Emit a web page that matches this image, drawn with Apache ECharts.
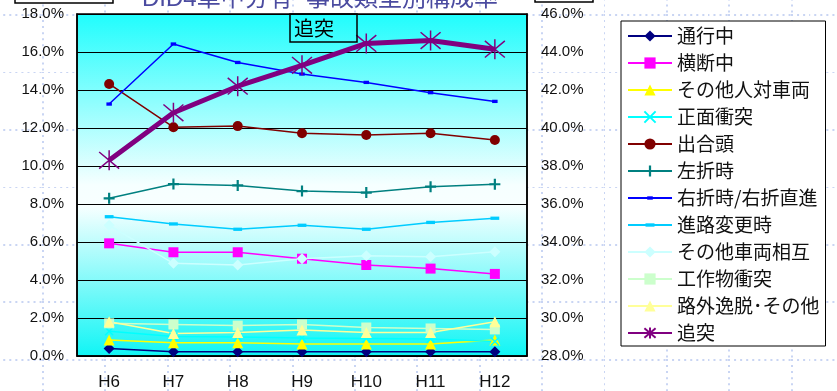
<!DOCTYPE html>
<html>
<head>
<meta charset="utf-8">
<script src="https://cdn.jsdelivr.net/npm/echarts@6/dist/echarts.min.js"></script>
<style>
  html, body { margin: 0; padding: 0; }
  body {
    width: 837px; height: 391px; overflow: hidden;
    background-color: #fff;
    background-image: url("data:image/svg+xml,%3Csvg xmlns='http://www.w3.org/2000/svg' width='62.4' height='57.5'%3E%3Cpath d='M1 0V57.5M0 1H62.4' stroke='%23c9d5f3' stroke-width='2' stroke-dasharray='2 4' fill='none'/%3E%3C/svg%3E");
    background-size: 62.4px 57.5px;
    background-position: 42px 14px;
  }
  #chart { width: 837px; height: 391px; }
</style>
</head>
<body>
<div id="chart"></div>
<script>
// 年次
const years = ["H6", "H7", "H8", "H9", "H10", "H11", "H12"];

// 左軸 (%)
const tsukouchu = [0.40, 0.22, 0.22, 0.22, 0.22, 0.22, 0.22];
const oudanchu = [5.93, 5.46, 5.46, 5.12, 4.79, 4.60, 4.32];
const sonotaJinTaiSharyo = [0.84, 0.70, 0.70, 0.63, 0.63, 0.63, 0.84];
const shomenShototsu = [1.30, 1.02, 1.00, 0.95, 0.92, 0.90, 0.76];
const deaigashira = [14.32, 12.04, 12.10, 11.72, 11.63, 11.72, 11.37];
const sesetsu = [8.30, 9.05, 8.98, 8.68, 8.60, 8.91, 9.04];
const usetsu = [13.26, 16.42, 15.45, 14.84, 14.40, 13.86, 13.40];
const shinroHenko = [7.33, 6.95, 6.67, 6.88, 6.67, 7.03, 7.25];
const sonotaSharyoSogo = [6.88, 4.88, 4.79, 5.12, 5.28, 5.23, 5.49];
const kosakubutsu = [1.72, 1.66, 1.60, 1.66, 1.50, 1.45, 1.40];
const rogaiItsudatsu = [1.80, 1.19, 1.24, 1.37, 1.24, 1.24, 1.80];

// 右軸 (%)
const tsuitotsu = [38.3, 40.8, 42.2, 43.3, 44.45, 44.6, 44.15];

const leftTicks = { min: 0, max: 18, step: 2 };
const rightTicks = { min: 28, max: 46, step: 2 };

const chart = echarts.init(document.getElementById("chart"));

const PLUS = "path://M4,0h2v4h4v2h-4v4h-2v-4h-4v-2h4z";
const CROSS = "path://M0,0L10,10M10,0L0,10";
const STAR = "path://M0,0L20,20M20,0L0,20M10,-2L10,22";
// 短い横棒 (外枠の M で正方形の範囲を保つ)
const DASH_S = "path://M0,0M2.5,3.5h5v3h-5zM10,10";
const DASH_L = "path://M0,0M1,3.5h8v3h-8zM10,10";

function line(name, data, color, symbol, size, extra) {
  return Object.assign({
    name: name,
    type: "line",
    data: data,
    symbol: symbol,
    symbolSize: size,
    color: color,
    lineStyle: { color: color, width: 1.5 },
    itemStyle: { color: color },
    emphasis: { disabled: true }
  }, extra || {});
}

const font = "'Liberation Sans', Arial, 'Noto Sans CJK JP', sans-serif";

const option = {
  backgroundColor: "transparent",
  animation: false,
  textStyle: { fontFamily: font },
  grid: {
    left: 77, right: 310, top: 14, bottom: 35,
    show: true,
    borderColor: "#000",
    borderWidth: 1.5,
    outerBoundsMode: "none",
    backgroundColor: new echarts.graphic.LinearGradient(0, 0, 0, 1, [
      { offset: 0, color: "#1ffdfd" },
      { offset: 0.5, color: "#f6ffff" },
      { offset: 0.56, color: "#f8ffff" },
      { offset: 1, color: "#0ff5f5" }
    ])
  },
  legend: {
    orient: "vertical",
    left: 621, top: 21,
    padding: [5, 6, 3, 6],
    itemWidth: 44, itemHeight: 14, itemGap: 7,
    borderColor: "#000", borderWidth: 1,
    backgroundColor: "#fff",
    textStyle: { fontSize: 19, color: "#111", lineHeight: 20,
      fontFamily: "'Noto Sans CJK JP', sans-serif" }
  },
  xAxis: {
    type: "category",
    data: years,
    boundaryGap: true,
    axisLine: { lineStyle: { color: "#000", width: 1.5 } },
    axisTick: { inside: true, length: 5, lineStyle: { color: "#000" } },
    axisLabel: { color: "#111", fontSize: 17, margin: 18 }
  },
  yAxis: [
    {
      type: "value", min: leftTicks.min, max: leftTicks.max, interval: leftTicks.step,
      axisLine: { show: true, lineStyle: { color: "#000", width: 1.5 } },
      axisTick: { show: false },
      splitLine: { lineStyle: { color: "#000", width: 1 } },
      axisLabel: { color: "#111", fontSize: 15, margin: 13,
        formatter: v => v.toFixed(1) + "%" }
    },
    {
      type: "value", min: rightTicks.min, max: rightTicks.max, interval: rightTicks.step,
      position: "right",
      axisLine: { show: true, lineStyle: { color: "#000", width: 1.5 } },
      axisTick: { show: false },
      splitLine: { show: false },
      axisLabel: { color: "#111", fontSize: 15, margin: 14,
        formatter: v => v.toFixed(1) + "%" }
    }
  ],
  series: [
    line("通行中", tsukouchu, "#000080", "diamond", 11),
    line("横断中", oudanchu, "#ff00ff", "rect", 10),
    line("その他人対車両", sonotaJinTaiSharyo, "#ffff00", "triangle", 11),
    line("正面衝突", shomenShototsu, "#00ffff", CROSS, 8,
      { itemStyle: { color: "#00ffff", borderColor: "#00ffff", borderWidth: 1.5 } }),
    line("出合頭", deaigashira, "#800000", "circle", 10),
    line("左折時", sesetsu, "#008080", PLUS, 11),
    line("右折時/右折直進", usetsu, "#0000ff", DASH_S, 11),
    line("進路変更時", shinroHenko, "#00ccff", DASH_L, 11),
    line("その他車両相互", sonotaSharyoSogo, "#ccffff", "diamond", 11),
    line("工作物衝突", kosakubutsu, "#ccffcc", "rect", 10),
    line("路外逸脱･その他", rogaiItsudatsu, "#ffff99", "triangle", 11),
    line("追突", tsuitotsu, "#800080", STAR, 20, {
      yAxisIndex: 1,
      lineStyle: { color: "#800080", width: 5 },
      itemStyle: { color: "#800080", borderColor: "#800080", borderWidth: 1.5 }
    })
  ],
  graphic: [
    {
      type: "text", x: 320, y: 11,
      style: {
        text: "DID4車中分有  事故類型別構成率",
        fill: "#4b4ba0",
        font: "24px 'Liberation Sans', 'Noto Sans CJK JP', sans-serif",
        textAlign: "center", textVerticalAlign: "bottom"
      }
    },
    { type: "rect", shape: { x: 15, y: -20, width: 98, height: 23 },
      style: { fill: "#fff", stroke: "#000", lineWidth: 1.5 } },
    { type: "rect", shape: { x: 535, y: -20, width: 58, height: 22 },
      style: { fill: "#fff", stroke: "#000", lineWidth: 1.5 } },
    {
      type: "text", x: 290, y: 14, z: 100,
      style: {
        text: "追突",
        fill: "#000",
        font: "20px 'Noto Sans CJK JP', sans-serif",
        padding: [2, 8, 2, 4],
        width: 55, height: 24,
        lineHeight: 24,
        borderColor: "#000", borderWidth: 1.5
      }
    }
  ]
};

chart.setOption(option);
</script>
</body>
</html>
